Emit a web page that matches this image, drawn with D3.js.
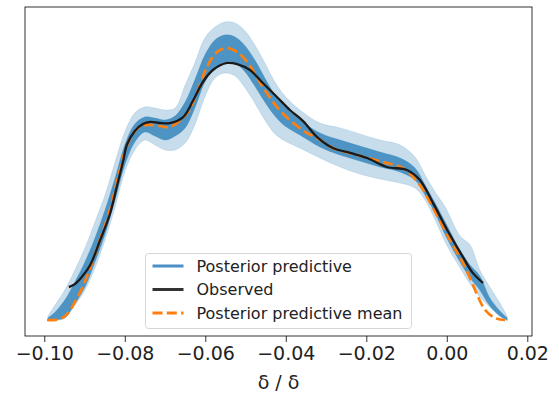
<!DOCTYPE html>
<html>
<head>
<meta charset="utf-8">
<script src="https://cdn.jsdelivr.net/npm/d3@7"></script>
<style>
  body { margin: 0; background: #fff; }
  text { font-family: "DejaVu Sans", sans-serif; }
</style>
</head>
<body>
<svg id="chart" width="559" height="394"></svg>
<script>
// observed density (black line)
const obsX = [-0.0939,-0.0924,-0.0911,-0.0886,-0.0862,-0.0837,-0.0817,-0.0804,-0.0795,-0.0775,-0.0755,-0.0737,-0.0713,-0.0688,-0.0655,-0.0631,-0.0606,-0.0581,-0.0546,-0.0521,-0.0489,-0.0457,-0.0422,-0.0390,-0.0357,-0.0322,-0.0283,-0.0240,-0.0198,-0.0149,-0.0099,-0.0067,-0.0034,0.0001,0.0040,0.0063,0.0090];
const obsY = [1.93,2.10,2.39,3.18,4.55,6.08,7.90,9.09,10.00,10.80,11.19,11.31,11.25,11.25,11.59,12.50,13.58,14.26,14.66,14.60,14.26,13.52,12.73,11.99,11.36,10.45,9.83,9.55,9.26,8.75,8.58,8.01,6.70,5.17,3.64,2.78,2.16];

// posterior predictive mean (orange dashed)
const meanX = [-0.0993,-0.0973,-0.0956,-0.0941,-0.0924,-0.0906,-0.0886,-0.0862,-0.0837,-0.0817,-0.0795,-0.0770,-0.0745,-0.0713,-0.0688,-0.0645,-0.0621,-0.0596,-0.0571,-0.0546,-0.0521,-0.0496,-0.0472,-0.0447,-0.0422,-0.0390,-0.0347,-0.0322,-0.0283,-0.0223,-0.0159,-0.0109,-0.0067,-0.0034,0.0008,0.0040,0.0063,0.0078,0.0095,0.0120,0.0145];
const meanY = [0.06,0.06,0.17,0.45,1.08,1.88,3.01,4.60,6.31,8.13,9.94,10.91,11.14,11.08,11.02,11.82,12.95,14.43,15.28,15.51,15.28,14.72,13.86,12.95,12.16,11.42,10.68,10.40,9.83,9.43,9.03,8.69,7.73,6.42,4.60,3.30,2.16,1.36,0.63,0.17,0.06];

// spread of the posterior predictive draws, read as envelopes on one grid
const bandX = [-0.0991,-0.0973,-0.0949,-0.0924,-0.0899,-0.0874,-0.0849,-0.0824,-0.0800,-0.0775,-0.0750,-0.0725,-0.0700,-0.0675,-0.0650,-0.0626,-0.0601,-0.0576,-0.0551,-0.0526,-0.0501,-0.0477,-0.0452,-0.0427,-0.0402,-0.0365,-0.0315,-0.0265,-0.0216,-0.0166,-0.0116,-0.0079,-0.0054,-0.0029,-0.0004,0.0033,0.0058,0.0082,0.0107,0.0132,0.0150];
const outerHi = [0.28,0.91,1.76,2.90,4.15,5.63,7.16,9.03,10.74,11.82,12.16,12.10,11.99,12.10,13.41,14.66,16.08,16.70,16.99,16.93,16.48,15.68,14.66,13.58,12.78,11.99,11.25,10.97,10.63,10.28,10.00,9.32,8.30,7.33,6.48,4.83,4.32,2.90,1.93,1.02,0.28];
const outerLo = [0.06,0.06,0.28,0.91,1.76,3.01,4.60,6.48,8.47,9.72,10.28,10.00,9.72,9.72,10.11,11.14,12.73,13.81,14.09,13.92,13.24,12.39,11.42,10.63,10.23,9.83,9.26,8.75,8.35,8.07,7.84,7.56,6.88,5.74,4.49,3.01,2.10,1.36,0.80,0.28,0.00];
const innerHi = [0.17,0.51,1.19,2.22,3.35,4.72,6.31,8.13,10.00,11.19,11.59,11.53,11.42,11.65,12.44,13.69,15.11,15.97,16.25,16.14,15.63,14.83,13.81,12.84,12.16,11.42,10.68,10.28,9.94,9.60,9.26,8.69,7.73,6.70,5.63,4.03,3.18,2.56,1.31,0.57,0.17];
const innerLo = [0.06,0.06,0.17,0.97,1.93,3.35,4.94,6.88,8.86,10.17,10.74,10.51,10.28,10.51,10.97,12.10,13.58,14.38,14.72,14.66,14.15,13.35,12.44,11.65,11.08,10.57,9.89,9.43,9.09,8.75,8.47,8.01,7.16,6.14,4.89,3.35,2.44,1.76,0.85,0.28,0.06];

const xTicks = [-0.10, -0.08, -0.06, -0.04, -0.02, 0.00, 0.02];
const legendLabels = ["Posterior predictive", "Observed", "Posterior predictive mean"];
const xLabel = "δ / δ";

const margin = {top: 7, right: 27, bottom: 58, left: 25};
const width = 559 - margin.left - margin.right;
const height = 394 - margin.top - margin.bottom;

const svg = d3.select("#chart");
const g = svg.append("g")
  .attr("transform", "translate(" + margin.left + "," + margin.top + ")");

const x = d3.scaleLinear().domain([-0.10479, 0.02117]).range([0, width]);
const y = d3.scaleLinear().domain([-0.85, 17.84]).range([height, 0]);

g.append("clipPath").attr("id", "clip")
  .append("rect").attr("width", width).attr("height", height);
const plot = g.append("g").attr("clip-path", "url(#clip)");

const band = (hi, lo) => d3.area()
  .x((d, i) => x(bandX[i]))
  .y0((d, i) => y(lo[i]))
  .y1((d, i) => y(hi[i]))
  .curve(d3.curveCatmullRom.alpha(0.5));

plot.append("path").datum(bandX)
  .attr("d", band(outerHi, outerLo))
  .attr("fill", "#1f77b4").attr("fill-opacity", 0.25)
  .attr("stroke", "#1f77b4").attr("stroke-opacity", 0.2).attr("stroke-width", 0.7);

plot.append("path").datum(bandX)
  .attr("d", band(innerHi, innerLo))
  .attr("fill", "#1f77b4").attr("fill-opacity", 0.72)
  .attr("stroke", "#1f77b4").attr("stroke-opacity", 0.35).attr("stroke-width", 0.8);

const line = (xs, ys) => d3.line()
  .x((d, i) => x(xs[i]))
  .y((d, i) => y(ys[i]))
  .curve(d3.curveCatmullRom.alpha(0.5));

plot.append("path").datum(meanX)
  .attr("d", line(meanX, meanY))
  .attr("fill", "none")
  .attr("stroke", "#ff7f0e")
  .attr("stroke-width", 2.7)
  .attr("stroke-dasharray", "10,4.3");

plot.append("path").datum(obsX)
  .attr("d", line(obsX, obsY))
  .attr("fill", "none")
  .attr("stroke", "#1a1a1a")
  .attr("stroke-width", 2.3);

// frame
g.append("rect")
  .attr("width", width).attr("height", height)
  .attr("fill", "none").attr("stroke", "#000").attr("stroke-width", 0.8);

// x axis
const xAxis = g.append("g")
  .attr("transform", "translate(0," + height + ")")
  .call(d3.axisBottom(x).tickValues(xTicks).tickFormat(d3.format(".2f"))
    .tickSize(6).tickPadding(5));
xAxis.select(".domain").remove();
xAxis.selectAll("line").attr("stroke", "#000").attr("stroke-width", 0.8);
xAxis.selectAll("text")
  .attr("font-size", 19)
  .attr("font-family", "DejaVu Sans")
  .attr("fill", "#222");

g.append("text")
  .attr("x", width / 2).attr("y", 382)
  .attr("text-anchor", "middle")
  .attr("font-size", 19)
  .attr("fill", "#222")
  .text(xLabel);

// legend
const legend = svg.append("g").attr("transform", "translate(145.5,253.5)");
legend.append("rect")
  .attr("width", 266).attr("height", 75).attr("rx", 3)
  .attr("fill", "#fff").attr("fill-opacity", 0.8)
  .attr("stroke", "#ccc").attr("stroke-width", 0.8);

const legendStyles = [
  {color: "#4a8fc7", dash: null},
  {color: "#333", dash: null},
  {color: "#ff7f0e", dash: "10,4.3"}
];
legendLabels.forEach((label, i) => {
  const cy = 12.5 + i * 23.5;
  legend.append("line")
    .attr("x1", 7).attr("x2", 38)
    .attr("y1", cy).attr("y2", cy)
    .attr("stroke", legendStyles[i].color)
    .attr("stroke-width", 3)
    .attr("stroke-dasharray", legendStyles[i].dash);
  legend.append("text")
    .attr("x", 51).attr("y", cy)
    .attr("dy", "0.35em")
    .attr("font-size", 16)
    .attr("fill", "#222")
    .text(label);
});
</script>
</body>
</html>
